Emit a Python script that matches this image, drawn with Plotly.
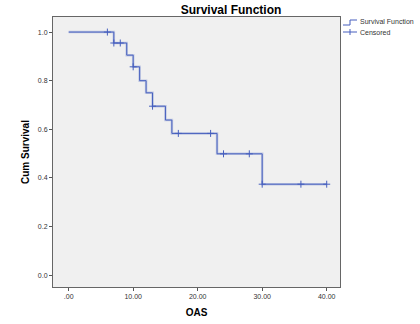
import plotly.graph_objects as go

event_times = [7, 9, 10, 11, 12, 13, 15, 16, 23, 30]
survival = [0.955, 0.905, 0.857, 0.80, 0.75, 0.695, 0.638, 0.583, 0.499, 0.374]
censor_times = [6, 7, 8, 10, 13, 17, 22, 24, 28, 30, 36, 40]
x_ticks = [0, 10, 20, 30, 40]
x_tick_labels = [".00", "10.00", "20.00", "30.00", "40.00"]
y_ticks = [0.0, 0.2, 0.4, 0.6, 0.8, 1.0]
y_tick_labels = ["0.0", "0.2", "0.4", "0.6", "0.8", "1.0"]
legend_labels = ["Survival Function", "Censored"]


def surv_at(t):
    s = 1.0
    for et, sv in zip(event_times, survival):
        if et <= t:
            s = sv
    return s


step_x = [0] + event_times + [max(censor_times)]
step_y = [1.0] + survival + [survival[-1]]
cens_y = [surv_at(t) for t in censor_times]

blue = "rgb(70,95,190)"
fig = go.Figure()
fig.add_trace(go.Scatter(x=step_x, y=step_y, mode="lines", line_shape="hv",
                         line=dict(color="rgba(84,108,196,0.3)", width=2.5),
                         showlegend=False, hoverinfo="skip"))
fig.add_trace(go.Scatter(x=step_x, y=step_y, mode="lines", line_shape="hv",
                         line=dict(color=blue, width=1), showlegend=False))
fig.add_trace(go.Scatter(x=censor_times, y=cens_y, mode="markers", showlegend=False,
                         marker=dict(symbol="cross-thin", size=5,
                                     line=dict(color=blue, width=1))))

# custom legend (SPSS style), in paper coordinates
W, H = 420, 324
L, R, T, B = 53, 80, 17, 37
pw, ph = W - L - R, H - T - B


def px(x):
    return (x - L) / pw


def py(y):
    return 1 - (y - T) / ph


# step glyph
fig.add_shape(type="path", xref="paper", yref="paper",
              path=f"M {px(343)} {py(25)} L {px(350)} {py(25)} L {px(350)} {py(20)} L {px(357)} {py(20)}",
              line=dict(color=blue, width=1))
# cross glyph
fig.add_shape(type="line", xref="paper", yref="paper", x0=px(343), x1=px(357),
              y0=py(32), y1=py(32), line=dict(color=blue, width=1))
fig.add_shape(type="line", xref="paper", yref="paper", x0=px(350), x1=px(350),
              y0=py(29), y1=py(35), line=dict(color=blue, width=1))
for lbl, yy in zip(legend_labels, [22, 32]):
    fig.add_annotation(text=lbl, xref="paper", yref="paper", x=px(358), y=py(yy),
                       xanchor="left", yanchor="middle", showarrow=False,
                       font=dict(size=7, color="#333"))

fig.update_layout(
    width=W, height=H,
    margin=dict(l=L, r=R, t=T, b=B, autoexpand=False),
    paper_bgcolor="white", plot_bgcolor="#f0f0f0",
    font=dict(family="Liberation Sans, Arial, sans-serif", color="#222"),
    showlegend=False,
    title=dict(text="<b>Survival Function</b>", x=231/420, xanchor="center",
               y=1 - 10/324, yanchor="middle", font=dict(size=12, color="black")),
    xaxis=dict(range=[-2.43, 42.06], tickvals=x_ticks, ticktext=x_tick_labels,
               showgrid=False, zeroline=False, ticks="outside", ticklen=3,
               tickcolor="#555", showline=True, linecolor="#666", linewidth=1,
               mirror=True, tickfont=dict(size=7, color="#333"),
               title=dict(text="<b>OAS</b>", font=dict(size=10, color="black"),
                          standoff=9)),
    yaxis=dict(range=[-0.049, 1.062], tickvals=y_ticks, ticktext=y_tick_labels,
               showgrid=False, zeroline=False, ticks="outside", ticklen=3,
               tickcolor="#555", showline=True, linecolor="#666", linewidth=1,
               mirror=True, tickfont=dict(size=7, color="#333"),
               title=dict(text="<b>Cum Survival</b>", font=dict(size=10, color="black"),
                          standoff=6)),
)
fig.write_html("out.html", config={"displayModeBar": False},
               post_script="document.body.style.margin='0px';document.body.style.overflow='hidden';")
